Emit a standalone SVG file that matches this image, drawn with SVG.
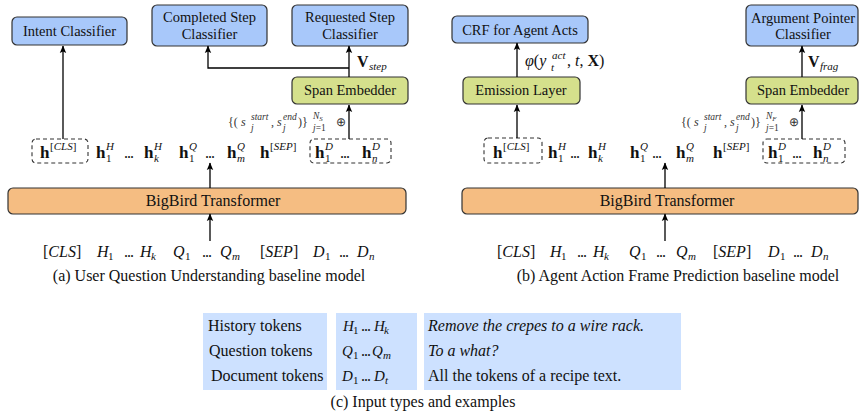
<svg xmlns="http://www.w3.org/2000/svg" width="859" height="419" viewBox="0 0 859 419">
<defs>
<marker id="ah" markerUnits="userSpaceOnUse" markerWidth="8" markerHeight="8" refX="7" refY="4" orient="auto">
<path d="M0,0.8 L7.5,4 L0,7.2 L1.5,4 z" fill="#000"/>
</marker>
<style>
text{font-family:"Liberation Serif","Times New Roman",serif;fill:#111}
.bx{stroke:#333;stroke-width:1.2}
.blue{fill:#a8c8fa}
.green{fill:#d5e08c}
.orange{fill:#f5bd82}
.cell{fill:#cde1ff}
.lbl{font-size:14.5px;text-anchor:middle}
.big{font-size:16px;text-anchor:middle}
.cap{font-size:16px;text-anchor:middle}
.tab{font-size:16px}
.dash{fill:none;stroke:#333;stroke-width:1.1;stroke-dasharray:4 3}
.hb{font-size:17px;font-weight:bold}
.s{font-size:11px}
.it{font-style:italic}
.m{font-size:16px;font-style:italic}
.tm{font-size:15px;font-style:italic}
.r{font-size:16px}
.dots{font-size:16px;letter-spacing:-1px}
.sm{font-size:12px;fill:#333}
.smi{font-size:12px;font-style:italic;fill:#333}
.ss{font-size:9.5px;font-style:italic;fill:#333}
.ssr{font-size:9.5px;fill:#333}
.con{fill:none;stroke:#000;stroke-width:1.3}
</style>
</defs>

<!-- Panel (a) -->
<g id="intent-classifier">
<rect class="bx blue" x="12" y="17" width="115" height="28" rx="5"/>
<text class="lbl" x="69.5" y="36">Intent Classifier</text>
</g>
<g id="completed-step-classifier">
<rect class="bx blue" x="152" y="5" width="115" height="41" rx="5"/>
<text class="lbl" x="209.5" y="22">Completed Step</text>
<text class="lbl" x="209.5" y="39">Classifier</text>
</g>
<g id="requested-step-classifier">
<rect class="bx blue" x="292" y="5" width="116" height="41" rx="5"/>
<text class="lbl" x="350" y="22">Requested Step</text>
<text class="lbl" x="350" y="39">Classifier</text>
</g>
<g id="span-embedder-a">
<rect class="bx green" x="292" y="77" width="116" height="27" rx="5"/>
<text class="lbl" x="350" y="95">Span Embedder</text>
</g>
<g id="bigbird-a">
<rect class="bx orange" x="8" y="188" width="398" height="26" rx="5"/>
<text class="big" x="213" y="206">BigBird Transformer</text>
</g>
<g id="hcls-a">
<rect class="dash" x="32" y="139" width="56" height="24" rx="4"/>
<text class="hb" x="40" y="158">h</text>
<text class="s" x="50" y="150">[<tspan class="it">CLS</tspan>]</text>
</g>
<g id="hrow-a">
<text class="hb" x="96" y="158">h</text><text class="s it" x="106" y="150">H</text><text class="s" x="106" y="162">1</text>
<text class="dots" x="124" y="158">...</text>
<text class="hb" x="144" y="158">h</text><text class="s it" x="154" y="150">H</text><text class="s it" x="154" y="162">k</text>
<text class="hb" x="179" y="158">h</text><text class="s it" x="189" y="150">Q</text><text class="s" x="189" y="162">1</text>
<text class="dots" x="205" y="158">...</text>
<text class="hb" x="227" y="158">h</text><text class="s it" x="237" y="150">Q</text><text class="s it" x="237" y="162">m</text>
<text class="hb" x="260" y="158">h</text><text class="s" x="270" y="150">[<tspan class="it">SEP</tspan>]</text>
</g>
<g id="hd-a">
<rect class="dash" x="310" y="139" width="81" height="24" rx="4"/>
<text class="hb" x="315" y="158">h</text><text class="s it" x="325" y="150">D</text><text class="s" x="325" y="162">1</text>
<text class="dots" x="340" y="158">...</text>
<text class="hb" x="362" y="158">h</text><text class="s it" x="372" y="150">D</text><text class="s it" x="372" y="162">n</text>
</g>
<g id="input-a">
<text class="r" x="43" y="257">[<tspan class="it">CLS</tspan>]</text>
<text class="m" x="97" y="257">H</text><text class="s" x="108" y="260">1</text>
<text class="dots" x="124" y="257">...</text>
<text class="m" x="140" y="257">H</text><text class="s it" x="151" y="260">k</text>
<text class="m" x="173" y="257">Q</text><text class="s" x="185" y="260">1</text>
<text class="dots" x="202" y="257">...</text>
<text class="m" x="220" y="257">Q</text><text class="s it" x="232" y="260">m</text>
<text class="r" x="260" y="257">[<tspan class="it">SEP</tspan>]</text>
<text class="m" x="313" y="257">D</text><text class="s" x="325" y="260">1</text>
<text class="dots" x="339" y="257">...</text>
<text class="m" x="357" y="257">D</text><text class="s it" x="369" y="260">n</text>
</g>
<g id="labels-a">
<text class="r" x="357" y="67" font-weight="bold">V</text><text class="s it" x="369" y="70">step</text>
<text class="sm" x="228" y="126">{(</text><text class="smi" x="241" y="126">s</text>
<text class="ss" x="251" y="120">start</text><text class="ss" x="251" y="131">j</text>
<text class="sm" x="271" y="126">,</text><text class="smi" x="277" y="126">s</text>
<text class="ss" x="283" y="120">end</text><text class="ss" x="283" y="131">j</text>
<text class="sm" x="298" y="126">)}</text>
<text class="ss" x="313" y="119">N<tspan font-size="7" dy="2">S</tspan></text><text class="ssr" x="313" y="131"><tspan class="ss">j</tspan>=1</text>
<text class="sm" x="336" y="126">⊕</text>
<text class="cap" x="209" y="281">(a) User Question Understanding baseline model</text>
</g>

<!-- Panel (b) -->
<g id="crf">
<rect class="bx blue" x="452" y="16" width="136" height="27" rx="5"/>
<text class="lbl" x="520" y="35">CRF for Agent Acts</text>
</g>
<g id="argument-pointer-classifier">
<rect class="bx blue" x="746" y="5" width="112" height="41" rx="5"/>
<text class="lbl" x="803" y="23">Argument Pointer</text>
<text class="lbl" x="803" y="39">Classifier</text>
</g>
<g id="emission-layer">
<rect class="bx green" x="463" y="77" width="117" height="27" rx="5"/>
<text class="lbl" x="521" y="95">Emission Layer</text>
</g>
<g id="span-embedder-b">
<rect class="bx green" x="746" y="77" width="112" height="27" rx="5"/>
<text class="lbl" x="803" y="95">Span Embedder</text>
</g>
<g id="bigbird-b">
<rect class="bx orange" x="462" y="188" width="396" height="26" rx="5"/>
<text class="big" x="667" y="206">BigBird Transformer</text>
</g>
<g id="hcls-b">
<rect class="dash" x="484" y="138" width="58" height="25" rx="4"/>
<text class="hb" x="493" y="158">h</text>
<text class="s" x="503" y="150">[<tspan class="it">CLS</tspan>]</text>
</g>
<g id="hrow-b">
<text class="hb" x="548" y="158">h</text><text class="s it" x="558" y="150">H</text><text class="s" x="558" y="162">1</text>
<text class="dots" x="570" y="158">...</text>
<text class="hb" x="588" y="158">h</text><text class="s it" x="598" y="150">H</text><text class="s it" x="598" y="162">k</text>
<text class="hb" x="630" y="158">h</text><text class="s it" x="640" y="150">Q</text><text class="s" x="640" y="162">1</text>
<text class="dots" x="652" y="158">...</text>
<text class="hb" x="676" y="158">h</text><text class="s it" x="686" y="150">Q</text><text class="s it" x="686" y="162">m</text>
<text class="hb" x="713" y="158">h</text><text class="s" x="723" y="150">[<tspan class="it">SEP</tspan>]</text>
</g>
<g id="hd-b">
<rect class="dash" x="763" y="139" width="82" height="24" rx="4"/>
<text class="hb" x="768" y="158">h</text><text class="s it" x="778" y="150">D</text><text class="s" x="778" y="162">1</text>
<text class="dots" x="792" y="158">...</text>
<text class="hb" x="813" y="158">h</text><text class="s it" x="823" y="150">D</text><text class="s it" x="823" y="162">n</text>
</g>
<g id="input-b">
<text class="r" x="497" y="257">[<tspan class="it">CLS</tspan>]</text>
<text class="m" x="550" y="257">H</text><text class="s" x="561" y="260">1</text>
<text class="dots" x="577" y="257">...</text>
<text class="m" x="593" y="257">H</text><text class="s it" x="604" y="260">k</text>
<text class="m" x="629" y="257">Q</text><text class="s" x="641" y="260">1</text>
<text class="dots" x="656" y="257">...</text>
<text class="m" x="676" y="257">Q</text><text class="s it" x="688" y="260">m</text>
<text class="r" x="713" y="257">[<tspan class="it">SEP</tspan>]</text>
<text class="m" x="768" y="257">D</text><text class="s" x="780" y="260">1</text>
<text class="dots" x="793" y="257">...</text>
<text class="m" x="811" y="257">D</text><text class="s it" x="823" y="260">n</text>
</g>
<g id="labels-b">
<text class="r" x="808" y="67" font-weight="bold">V</text><text class="s it" x="820" y="70">frag</text>
<text class="m" x="525" y="66">φ<tspan font-style="normal">(</tspan>y</text>
<text class="s it" x="552" y="59">act</text><text class="s it" x="551" y="71">t</text>
<text class="r" x="567" y="66">, <tspan class="it">t</tspan>, <tspan font-weight="bold">X</tspan>)</text>
<text class="sm" x="681" y="126">{(</text><text class="smi" x="694" y="126">s</text>
<text class="ss" x="704" y="120">start</text><text class="ss" x="704" y="131">j</text>
<text class="sm" x="724" y="126">,</text><text class="smi" x="730" y="126">s</text>
<text class="ss" x="736" y="120">end</text><text class="ss" x="736" y="131">j</text>
<text class="sm" x="751" y="126">)}</text>
<text class="ss" x="766" y="119">N<tspan font-size="7" dy="2">F</tspan></text><text class="ssr" x="766" y="131"><tspan class="ss">j</tspan>=1</text>
<text class="sm" x="789" y="126">⊕</text>
<text class="cap" x="678" y="281">(b) Agent Action Frame Prediction baseline model</text>
</g>

<!-- Panel (c) table -->
<g id="input-table">
<rect class="cell" x="203" y="313" width="124" height="77"/>
<rect class="cell" x="336" y="313" width="81" height="77"/>
<rect class="cell" x="424" y="313" width="257" height="77"/>
<text class="tab" x="208" y="331">History tokens</text>
<text class="tab" x="209" y="356">Question tokens</text>
<text class="tab" x="211" y="381">Document tokens</text>
<text class="tm" x="343" y="331">H</text><text class="s" x="353" y="334">1</text><text class="dots" x="361" y="331">...</text><text class="tm" x="374" y="331">H</text><text class="s it" x="384" y="334">k</text>
<text class="tm" x="342" y="356">Q</text><text class="s" x="353" y="359">1</text><text class="dots" x="361" y="356">...</text><text class="tm" x="372" y="356">Q</text><text class="s it" x="383" y="359">m</text>
<text class="tm" x="342" y="381">D</text><text class="s" x="353" y="384">1</text><text class="dots" x="361" y="381">...</text><text class="tm" x="374" y="381">D</text><text class="s it" x="385" y="384">t</text>
<text class="tab it" x="428" y="331">Remove the crepes to a wire rack.</text>
<text class="tab it" x="428" y="356">To a what?</text>
<text class="tab" x="428" y="381">All the tokens of a recipe text.</text>
<text class="cap" x="423" y="407">(c) Input types and examples</text>
</g>

<g id="connectors">
<line class="con" x1="63" y1="139" x2="63" y2="46" marker-end="url(#ah)"/>
<line class="con" x1="349" y1="139" x2="349" y2="105" marker-end="url(#ah)"/>
<line class="con" x1="349" y1="77" x2="349" y2="46" marker-end="url(#ah)"/>
<polyline class="con" points="349,68 208,68 208,46" marker-end="url(#ah)"/>
<line class="con" x1="210" y1="188" x2="210" y2="163" marker-end="url(#ah)"/>
<line class="con" x1="210" y1="241" x2="210" y2="214" marker-end="url(#ah)"/>
<line class="con" x1="517" y1="138" x2="517" y2="105" marker-end="url(#ah)"/>
<line class="con" x1="517" y1="77" x2="517" y2="43" marker-end="url(#ah)"/>
<line class="con" x1="802" y1="139" x2="802" y2="105" marker-end="url(#ah)"/>
<line class="con" x1="802" y1="77" x2="802" y2="46" marker-end="url(#ah)"/>
<line class="con" x1="665" y1="188" x2="665" y2="163" marker-end="url(#ah)"/>
<line class="con" x1="665" y1="241" x2="665" y2="214" marker-end="url(#ah)"/>
</g>
</svg>
